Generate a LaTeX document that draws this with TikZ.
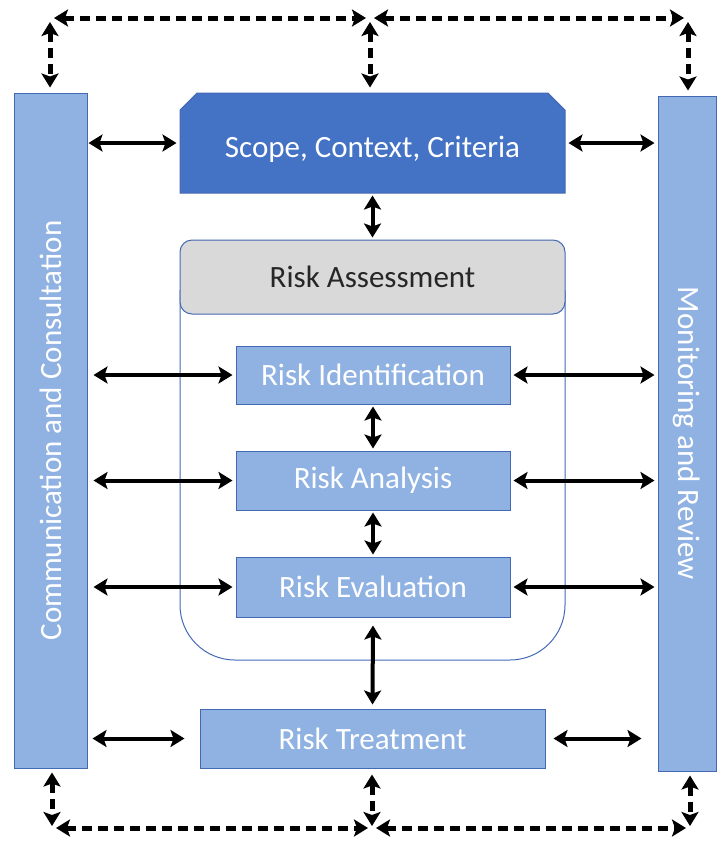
\documentclass[tikz,border=0pt]{standalone}
\usepackage{fontspec}
\setmainfont{Carlito}
\usetikzlibrary{shapes.misc}
\usetikzlibrary{arrows.meta}

\definecolor{lightblue}{RGB}{143,178,226}
\definecolor{darkblue}{RGB}{68,114,196}
\definecolor{edgeblue}{RGB}{68,105,180}
\definecolor{headgray}{RGB}{217,217,217}

\begin{document}
\begin{tikzpicture}[
    x=1pt, y=-1pt,
    >={Stealth[length=14pt,width=17pt,inset=3pt]},
    stage/.style={
        rectangle,
        draw=edgeblue, fill=lightblue, line width=1pt,
        text=white, inner sep=0pt,
        font=\fontsize{31}{37}\selectfont
    },
    bar/.style={stage, minimum height=675pt},
    link/.style={<->, line width=4pt},
    feedback/.style={<->, line width=5pt, dash pattern=on 10pt off 6pt}
]
\useasboundingbox (0,0) rectangle (718,847);

% assessment frame, header goes on top of it
\draw[edgeblue, line width=1pt, rounded corners=55pt]
    (180,290) -- (180,660) -- (565,660) -- (565,290);
\node[stage, fill=headgray, text=black!85, rounded corners=12pt,
      minimum width=385pt, minimum height=74pt] (assess) at (372.5,277) {Risk Assessment};

\node[stage, fill=darkblue, chamfered rectangle,
      chamfered rectangle corners={north west,north east},
      chamfered rectangle xsep=14pt,
      text height=29pt, text depth=0pt,
      minimum width=385pt, minimum height=100pt] (scope) at (372.5,143) {Scope, Context, Criteria};

\node[stage, minimum width=274pt, minimum height=58pt] (ident)      at (373,375)   {Risk Identification};
\node[stage, minimum width=274pt, minimum height=59pt] (analysis)   at (373,480.5) {Risk Analysis};
\node[stage, minimum width=274pt, minimum height=60pt] (evaluation) at (373,587)   {Risk Evaluation};
\node[stage, minimum width=345pt, minimum height=59pt] (treatment)  at (372.5,738.5) {Risk Treatment};

\node[bar, minimum width=73pt] (comm)   at (50.5,430.5) {\rotatebox{90}{Communication and Consultation}};
\node[bar, minimum width=58pt] (review) at (687,433.5)  {\rotatebox{-90}{Monitoring and Review}};

% solid links
\draw[link, shorten <=1pt, shorten >=3pt] (comm.east |- scope) -- (scope.west);
\draw[link, shorten <=3pt, shorten >=3pt] (scope.east) -- (scope.east -| review.west);
\draw[link, shorten <=2pt, shorten >=2pt] (scope.south) -- (assess.north);

\foreach \n in {ident,analysis,evaluation} {
    \draw[link, shorten <=6pt, shorten >=3pt] (comm.east |- \n) -- (\n.west);
    \draw[link, shorten <=3pt, shorten >=3pt] (\n.east) -- (\n.east -| review.west);
}
\draw[link, shorten <=2pt, shorten >=2pt] (ident.south) -- (analysis.north);
\draw[link, shorten <=2pt, shorten >=2pt] (analysis.south) -- (evaluation.north);
\draw[link, shorten <=8pt, shorten >=4pt] (evaluation.south) -- (treatment.north);

\draw[link, shorten <=5pt, shorten >=15pt] (comm.east |- treatment) -- (treatment.west);
\draw[link, shorten <=8pt, shorten >=16pt] (treatment.east) -- (treatment.east -| review.west);

% dashed loop round the whole process
\coordinate (tl) at (50,18);
\coordinate (tc) at (370,18);
\coordinate (tr) at (688,18);
\coordinate (bl) at (52,828);
\coordinate (bc) at (372,828);
\coordinate (br) at (690,828);

\draw[feedback, shorten <=4pt, shorten >=4pt] (tl) -- (tc);
\draw[feedback, shorten <=4pt, shorten >=4pt] (tc) -- (tr);
\draw[feedback, shorten <=4pt, shorten >=5pt] (tl) -- (tl |- comm.north);
\draw[feedback, shorten <=4pt, shorten >=5pt] (tc) -- (tc |- scope.north);
\draw[feedback, shorten <=4pt, shorten >=5pt] (tr) -- (tr |- review.north);

\draw[feedback, shorten <=4pt, shorten >=4pt] (bl) -- (bc);
\draw[feedback, shorten <=4pt, shorten >=4pt] (bc) -- (br);
\draw[feedback, shorten <=4pt, shorten >=2pt] (bl |- comm.south) -- (bl);
\draw[feedback, shorten <=6pt, shorten >=2pt] (bc |- treatment.south) -- (bc);
\draw[feedback, shorten <=4pt, shorten >=2pt] (br |- review.south) -- (br);
\end{tikzpicture}
\end{document}
